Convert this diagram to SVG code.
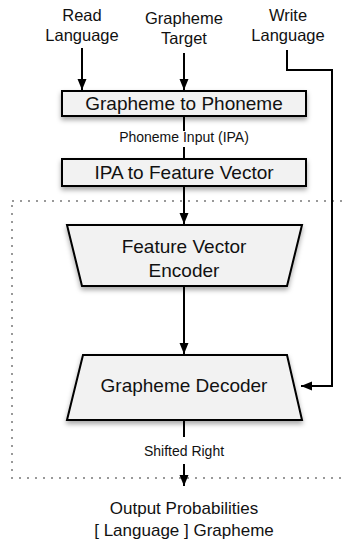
<svg xmlns="http://www.w3.org/2000/svg" width="346" height="544" viewBox="0 0 346 544">
  <style>
    text { font-family: "Liberation Sans", Arial, sans-serif; fill: #111; text-anchor: middle; }
    .lbl { font-size: 16.5px; }
    .node-text { font-size: 19px; }
    .small { font-size: 14px; }
    .out { font-size: 17px; }
    .shape { fill: #f2f2f2; stroke: #000; stroke-width: 2; filter: url(#shadow); }
    .wire { fill: none; stroke: #000; stroke-width: 2; }
    .group { fill: none; stroke: #999; stroke-width: 2; stroke-dasharray: 2 6; }
  </style>
  <defs>
    <filter id="shadow" x="-10%" y="-20%" width="120%" height="160%">
      <feDropShadow dx="0" dy="3" stdDeviation="2.5" flood-color="#000" flood-opacity="0.35"/>
    </filter>
    <marker id="arrow" markerUnits="userSpaceOnUse" markerWidth="12" markerHeight="10" refX="11" refY="4.5" orient="auto">
      <path d="M0,0 L11,4.5 L0,9 z" fill="#000"/>
    </marker>
  </defs>

  <!-- dotted model boundary -->
  <rect class="group" x="12" y="201" width="350" height="277"/>

  <!-- input labels -->
  <g id="read-language">
    <text class="lbl" x="82" y="21">Read</text>
    <text class="lbl" x="82" y="41">Language</text>
  </g>
  <g id="grapheme-target">
    <text class="lbl" x="184" y="24">Grapheme</text>
    <text class="lbl" x="184" y="44">Target</text>
  </g>
  <g id="write-language">
    <text class="lbl" x="288" y="21">Write</text>
    <text class="lbl" x="288" y="41">Language</text>
  </g>

  <!-- connectors -->
  <g id="connectors">
    <path class="wire" d="M82,48 V90" marker-end="url(#arrow)"/>
    <path class="wire" d="M184,53 V90" marker-end="url(#arrow)"/>
    <path class="wire" d="M287,50 V70 H332 V386 H301" marker-end="url(#arrow)"/>
    <path class="wire" d="M184,116 V131 M184,147 V159"/>
    <path class="wire" d="M184,186 V224" marker-end="url(#arrow)"/>
    <path class="wire" d="M184,286 V354" marker-end="url(#arrow)"/>
    <path class="wire" d="M184,420 V437"/>
    <path class="wire" d="M184,464 V486" marker-end="url(#arrow)"/>
  </g>

  <!-- edge labels -->
  <g id="label-phoneme-input">
    <text class="small" x="184" y="142">Phoneme Input (IPA)</text>
  </g>
  <g id="label-shifted-right">
    <text class="small" x="184" y="456">Shifted Right</text>
  </g>

  <!-- nodes -->
  <g id="grapheme-to-phoneme">
    <rect class="shape" x="62" y="91" width="244" height="25"/>
    <text class="node-text" x="184" y="110">Grapheme to Phoneme</text>
  </g>
  <g id="ipa-to-feature-vector">
    <rect class="shape" x="62" y="159" width="244" height="27"/>
    <text class="node-text" x="184" y="179">IPA to Feature Vector</text>
  </g>
  <g id="feature-vector-encoder">
    <polygon class="shape" points="67,225 302,225 287,286 82,286"/>
    <text class="node-text" x="184" y="253">Feature Vector</text>
    <text class="node-text" x="184" y="277">Encoder</text>
  </g>
  <g id="grapheme-decoder">
    <polygon class="shape" points="83,355 287,355 302,420 67,420"/>
    <text class="node-text" x="184" y="392">Grapheme Decoder</text>
  </g>

  <!-- output -->
  <g id="output-probabilities">
    <text class="out" x="184" y="514">Output Probabilities</text>
    <text class="out" x="184" y="536">[ Language ] Grapheme</text>
  </g>
</svg>
